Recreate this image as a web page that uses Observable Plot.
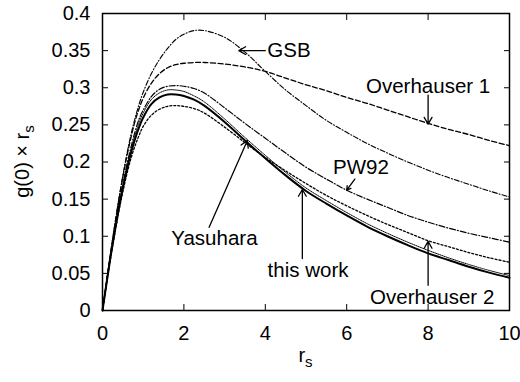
<!DOCTYPE html>
<html>
<head>
<meta charset="utf-8">
<script src="https://cdn.jsdelivr.net/npm/d3@7"></script>
<script src="https://cdn.jsdelivr.net/npm/@observablehq/plot@0.6"></script>
<style>
  html, body { margin: 0; padding: 0; background: #fff; }
  svg { font-family: "Liberation Sans", Arial, Helvetica, sans-serif; }
</style>
</head>
<body>
<div id="chart"></div>
<script>
const rs = [0,0.1,0.2,0.3,0.4,0.5,0.6,0.7,0.8,0.9,1.0,1.2,1.4,1.6,1.8,2.0,2.25,2.5,3,3.5,4,4.5,5,5.5,6,6.5,7,7.5,8,8.5,9,9.5,10];
const thisWork = [0,0.037,0.073,0.106,0.137,0.165,0.190,0.212,0.231,0.247,0.260,0.278,0.287,0.291,0.291,0.289,0.284,0.276,0.254,0.229,0.205,0.182,0.161,0.144,0.128,0.113,0.100,0.088,0.077,0.068,0.059,0.051,0.044];
const yasuhara = [0,0.037,0.073,0.107,0.138,0.167,0.193,0.216,0.236,0.253,0.266,0.284,0.293,0.297,0.297,0.295,0.289,0.281,0.258,0.233,0.209,0.186,0.165,0.148,0.132,0.117,0.104,0.092,0.081,0.071,0.062,0.054,0.047];
const pw92 = [0,0.038,0.075,0.109,0.141,0.170,0.197,0.220,0.241,0.258,0.270,0.288,0.298,0.302,0.303,0.302,0.299,0.293,0.273,0.252,0.232,0.212,0.193,0.177,0.162,0.150,0.139,0.128,0.119,0.111,0.104,0.098,0.092];
const overhauser2 = [0,0.036,0.071,0.103,0.133,0.160,0.184,0.205,0.222,0.236,0.248,0.263,0.271,0.275,0.276,0.275,0.272,0.266,0.247,0.226,0.206,0.188,0.171,0.155,0.141,0.128,0.116,0.105,0.094,0.086,0.078,0.071,0.065];
const gsb = [0,0.040,0.078,0.115,0.150,0.182,0.211,0.237,0.259,0.278,0.294,0.319,0.338,0.353,0.365,0.372,0.377,0.377,0.368,0.348,0.322,0.297,0.276,0.256,0.240,0.225,0.212,0.200,0.189,0.179,0.170,0.161,0.153];
const overhauser1 = [0,0.040,0.078,0.114,0.148,0.180,0.208,0.233,0.255,0.272,0.286,0.306,0.319,0.327,0.331,0.333,0.334,0.334,0.332,0.328,0.322,0.313,0.304,0.296,0.287,0.279,0.270,0.261,0.252,0.244,0.237,0.229,0.222];

const xTicks = [0,2,4,6,8,10];
const yTicks = [0,0.05,0.1,0.15,0.2,0.25,0.3,0.35,0.4];

const labelText = ["GSB","Overhauser 1","PW92","Yasuhara","this work","Overhauser 2"];
const labelX =    [4.05, 8.0, 6.35, 2.75, 5.05, 8.1];
const labelY =    [0.350, 0.302, 0.193, 0.097, 0.054, 0.0175];
const labelAnchor = ["start","middle","middle","middle","middle","middle"];
const arrowX1 = [4.0, 8.0, 6.2, 2.62, 4.91, 8.0];
const arrowY1 = [0.350, 0.290, 0.177, 0.112, 0.070, 0.034];
const arrowX2 = [3.35, 8.0, 6.0, 3.56, 4.91, 8.0];
const arrowY2 = [0.350, 0.251, 0.162, 0.229, 0.163, 0.093];

const series = [
  {name: "Overhauser 1", values: overhauser1, dash: "5,2.5", width: 1.3},
  {name: "GSB", values: gsb, dash: "5,2,1,2", width: 1.1},
  {name: "PW92", values: pw92, dash: "6,2,1,2", width: 1.2},
  {name: "Overhauser 2", values: overhauser2, dash: "2,2", width: 1.3},
  {name: "Yasuhara", values: yasuhara, dash: "1,1", width: 1.0},
  {name: "this work", values: thisWork, dash: null, width: 2.0}
];

const marks = [];
for (const s of series) {
  const data = rs.map((x, i) => ({x, y: s.values[i]}));
  marks.push(Plot.line(data, {x: "x", y: "y", stroke: "black", strokeWidth: s.width, strokeDasharray: s.dash, curve: "catmull-rom"}));
}
const labels = labelText.map((t, i) => ({t, x: labelX[i], y: labelY[i], a: labelAnchor[i]}));
const arrows = arrowX1.map((x1, i) => ({x1, y1: arrowY1[i], x2: arrowX2[i], y2: arrowY2[i]}));

const fs = 20;
const lfs = 20.5;
const fmt = d => String(d);
const chart = Plot.plot({
  width: 520,
  height: 382,
  marginLeft: 102,
  marginRight: 11,
  marginTop: 13,
  marginBottom: 72,
  style: {fontSize: fs + "px", fontFamily: '"Liberation Sans", Arial, sans-serif', color: "black", background: "white"},
  x: {domain: [0, 10]},
  y: {domain: [0, 0.4]},
  marks: [
    ...marks,
    Plot.arrow(arrows, {x1: "x1", y1: "y1", x2: "x2", y2: "y2", stroke: "black", strokeWidth: 1.3, headLength: 9, bend: 0}),
    Plot.text(labels.filter(d => d.a === "start"), {x: "x", y: "y", text: "t", textAnchor: "start", fontSize: lfs, fill: "black"}),
    Plot.text(labels.filter(d => d.a === "middle"), {x: "x", y: "y", text: "t", textAnchor: "middle", fontSize: lfs, fill: "black"}),
    Plot.axisX({ticks: xTicks, tickSize: 0, tickPadding: 15, tickFormat: fmt, label: null, fontSize: fs}),
    Plot.axisX({ticks: xTicks, tickSize: -6, tickFormat: () => "", label: null}),
    Plot.axisX({anchor: "top", ticks: xTicks, tickSize: -6, tickFormat: () => "", label: null}),
    Plot.axisY({ticks: yTicks, tickSize: 0, tickPadding: 12, tickFormat: fmt, label: null, fontSize: fs}),
    Plot.axisY({ticks: yTicks, tickSize: -6, tickFormat: () => "", label: null}),
    Plot.axisY({anchor: "right", ticks: yTicks, tickSize: -6, tickFormat: () => "", label: null}),
    Plot.frame({stroke: "black", strokeWidth: 1.5})
  ]
});
document.getElementById("chart").appendChild(chart);

// axis titles with subscripts
const svg = d3.select(chart);
const xt = svg.append("text")
  .attr("x", (102 + 509) / 2).attr("y", 362)
  .attr("text-anchor", "middle").attr("font-size", 20).attr("fill", "black");
xt.append("tspan").text("r");
xt.append("tspan").attr("font-size", 15).attr("dy", 5).text("s");
const yt = svg.append("text")
  .attr("transform", `translate(29,${(13 + 310) / 2}) rotate(-90)`)
  .attr("text-anchor", "middle").attr("font-size", 20).attr("fill", "black");
yt.append("tspan").text("g(0) × r");
yt.append("tspan").attr("font-size", 15).attr("dy", 5).text("s");
</script>
</body>
</html>
